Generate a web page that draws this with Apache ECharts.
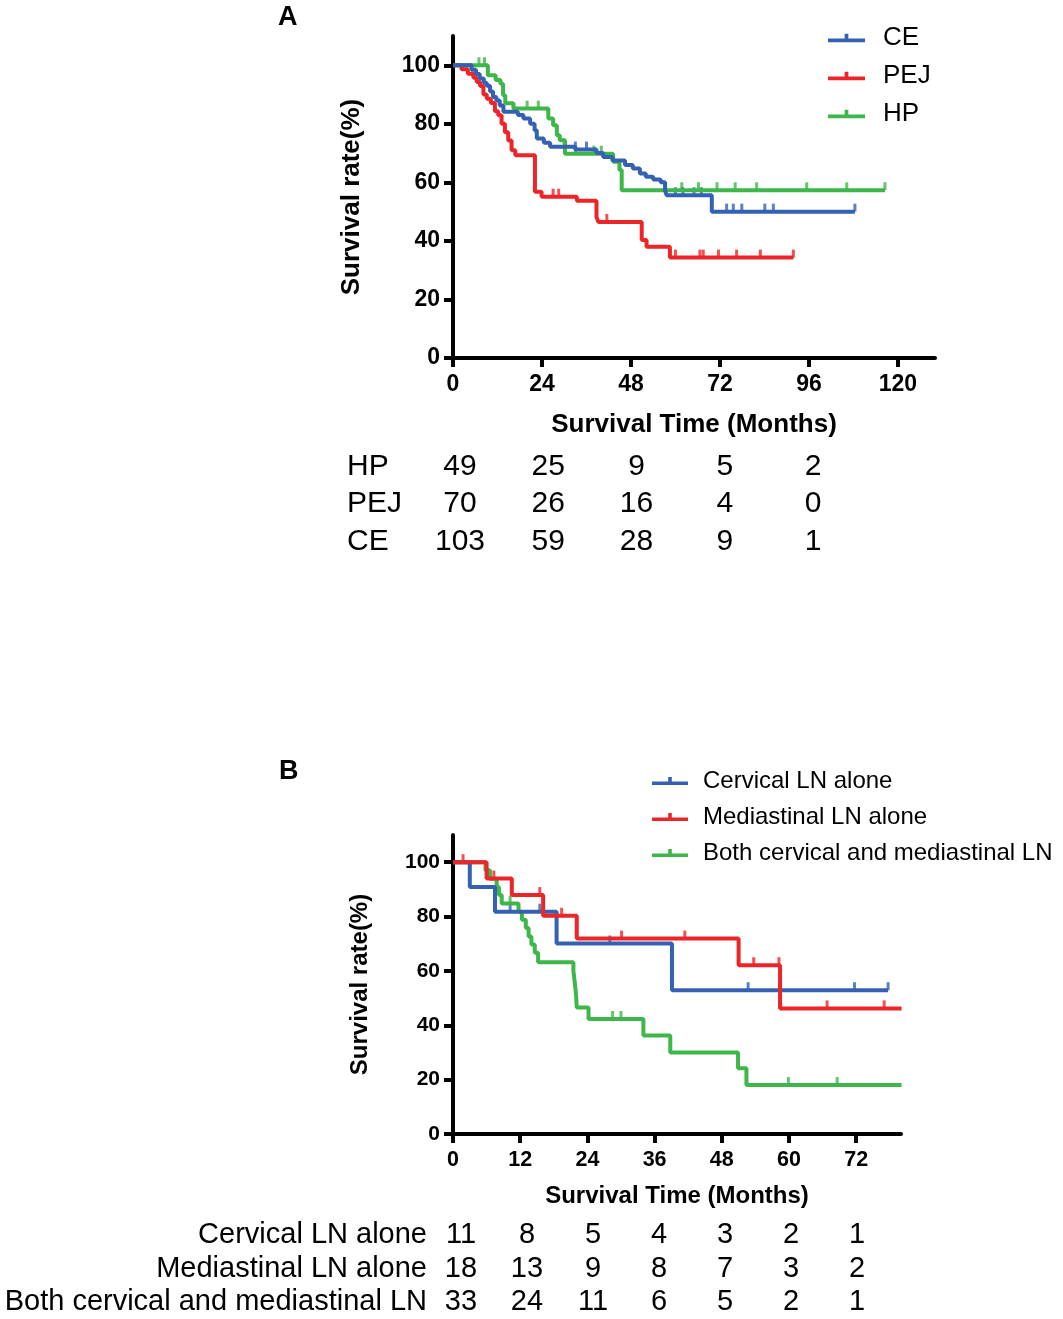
<!DOCTYPE html>
<html>
<head>
<meta charset="utf-8">
<title>survival-curves</title>
<script src="https://cdn.jsdelivr.net/npm/echarts@6.0.0/dist/echarts.min.js"></script>
<style>body{margin:0;background:#fff;}</style>
</head>
<body>
<div id="main" style="width:1063px;height:1319px;"></div>
<script>
var FONT = '"Liberation Sans", Arial, Helvetica, sans-serif';
var BLUE = '#3461b2', RED = '#ec2528', GREEN = '#3db64a';

// ---- panel A : survival steps [month, %] ----
var ceA = [[0,100],[5.0,98.5],[6.2,97],[7.2,95.5],[8.3,94],[9.1,93],[10,91],[10.8,89.2],[11.7,88],[12.6,86.3],[13.6,84.1],
  [17.5,83],[19,81.8],[20.8,80],[22,77.8],[22.6,75],[24.5,73.5],[26.2,72.2],[33,71.2],[38.7,70],[40.5,68.7],[43,67.5],
  [46.4,65.9],[48.5,64.7],[50.4,63],[52,61.9],[54,61],[56,60],[57.2,57.3],[57.6,55.6],[69.8,50],[108.4,50]];
var pejA = [[0,100],[2.3,98.6],[4,97.1],[5.5,95.7],[6.4,94.3],[7.3,92.9],[8.2,90],[9.1,88.6],[10.2,87.1],[11.3,84.3],
  [12.2,82.9],[13.1,80],[14,77.1],[14.9,74.3],[15.8,71],[16.8,69.3],[22.1,56.8],[23.9,55.1],[33.4,53.7],[38.7,48.2],
  [39.2,46.5],[50.9,40.3],[52.2,38],[58.5,34.3],[91.8,34.3]];
var hpA = [[0,100],[9.4,96.6],[11.5,95],[12.8,93.7],[13.5,89.8],[14.1,87],[16.3,85.2],[25.7,81.8],[27,79.5],[28,76.1],
  [28.8,74.4],[30.2,69.8],[43.2,67],[44.9,64.2],[45.5,57.3],[116.5,57.3]];
// censored marks
var ceCensA = [[30,72.2],[33,71.2],[36,71.2],[60,55.6],[62,55.6],[65,55.6],[67,55.6],[73.8,50],[75.6,50],[77.9,50],[84.1,50],[86.4,50],[108.4,50]];
var pejCensA = [[27,55.1],[28.5,55.1],[41.5,46.5],[60,34.3],[66.6,34.3],[67.5,34.3],[71.6,34.3],[76.5,34.3],[82.9,34.3],[91.8,34.3]];
var hpCensA = [[7,100],[8.5,100],[20,85.2],[23,85.2],[33,69.8],[38,69.8],[40,69.8],[61.7,57.3],[66.2,57.3],[71.2,57.3],[76.1,57.3],[81.9,57.3],[95.4,57.3],[106.2,57.3],[116.5,57.3]];

// numbers at risk, panel A
var riskNamesA = ['HP', 'PEJ', 'CE'];
var riskTimesA = [0, 24, 48, 72, 96];
var riskHP = [49, 25, 9, 5, 2];
var riskPEJ = [70, 26, 16, 4, 0];
var riskCE = [103, 59, 28, 9, 1];

// ---- panel B ----
var cervB = [[0,100],[3,90.9],[7.5,81.8],[18.5,70.1],[39.1,52.9],[77.7,52.9]];
var mediB = [[0,100],[6,94],[10.5,87.9],[16.1,80.3],[22.1,71.9],[51,62.1],[58.4,46.2],[80.1,46.2]];
var bothB = [[0,100],[5.8,97],[6.6,93.9],[7.8,90.9],[8.2,87.9],[8.7,84.8],[11.7,81.8],[12.3,78.8],[13,75.8],[13.5,72.7],
  [14,69.7],[14.6,66.7],[15.2,63.2],[21.5,60],[21.8,54.8],[22,50.5],[22.1,46.5],[24.2,42.3],[34,36.2],[38.8,30],
  [50.9,24.2],[52.4,18],[80.1,18]];
var cervCensB = [[10.2,81.8],[15.5,81.8],[28,70.1],[52.7,52.9],[71.7,52.9],[77.7,52.9]];
var mediCensB = [[1.8,100],[7.3,94],[15.5,87.9],[19.4,80.3],[30.1,71.9],[41.4,71.9],[53.7,62.1],[58.2,62.1],[66.8,46.2],[77,46.2]];
var bothCensB = [[10.2,84.8],[28.5,42.3],[30,42.3],[59.9,18],[68.6,18]];

var riskNamesB = ['Cervical LN alone', 'Mediastinal LN alone', 'Both cervical and mediastinal LN'];
var riskTimesB = [0, 12, 24, 36, 48, 60, 72];
var riskCerv = [11, 8, 5, 4, 3, 2, 1];
var riskMedi = [18, 13, 9, 8, 7, 3, 2];
var riskBoth = [33, 24, 11, 6, 5, 2, 1];

function tableData(rows, times) {
  var out = [];
  rows.forEach(function (r, i) {
    r.forEach(function (v, j) { out.push([times[j], i, v]); });
  });
  return out;
}

var myChart = echarts.init(document.getElementById('main'));
var legendIcon = 'path://M0,5H40V9H0Z M18,0H22V5H18Z';

function xAx(grid, max, step, ticks, fs, nfs, gap) {
  return {
    type: 'value', gridIndex: grid, min: 0, max: max, interval: step,
    name: 'Survival Time (Months)', nameLocation: 'middle', nameGap: gap,
    nameTextStyle: { fontFamily: FONT, fontWeight: 'bold', fontSize: nfs, color: '#000' },
    axisLine: { lineStyle: { color: '#000', width: 4 } },
    axisTick: { length: 9, lineStyle: { width: 4, color: '#000' }, customValues: ticks },
    axisLabel: { fontFamily: FONT, fontWeight: 'bold', fontSize: fs, color: '#000', margin: 15, customValues: ticks },
    splitLine: { show: false }
  };
}
function yAx(grid, fs, nfs, gap) {
  var ticks = [0, 20, 40, 60, 80, 100];
  return {
    type: 'value', gridIndex: grid, min: 0, max: 110, interval: 20,
    name: 'Survival rate(%)', nameLocation: 'middle', nameGap: gap,
    nameTextStyle: { fontFamily: FONT, fontWeight: 'bold', fontSize: nfs, color: '#000' },
    axisLine: { show: true, lineStyle: { color: '#000', width: 4 } },
    axisTick: { show: true, length: 9, lineStyle: { width: 4, color: '#000' }, customValues: ticks },
    axisLabel: { fontFamily: FONT, fontWeight: 'bold', fontSize: fs, color: '#000', margin: 13, customValues: ticks },
    splitLine: { show: false }
  };
}
function tableY(grid, names, align, margin, fs) {
  return {
    type: 'category', gridIndex: grid, data: names, inverse: true,
    axisLine: { show: false }, axisTick: { show: false }, splitLine: { show: false },
    axisLabel: { interval: 0, hideOverlap: false, align: align, margin: margin, fontFamily: FONT, fontSize: fs, color: '#000' }
  };
}
function kmLine(name, data, color, xi, yi) {
  return { name: name, type: 'line', step: 'end', data: data, xAxisIndex: xi, yAxisIndex: yi,
    showSymbol: false, lineStyle: { color: color, width: 4 }, itemStyle: { color: color } };
}
function cens(data, color, xi, yi) {
  return { type: 'scatter', data: data, xAxisIndex: xi, yAxisIndex: yi, symbol: 'rect',
    symbolSize: [3, 8], symbolOffset: [0, -4], itemStyle: { color: color }, silent: true };
}
function table(data, xi, yi, fs) {
  return { type: 'scatter', data: data, xAxisIndex: xi, yAxisIndex: yi, symbolSize: 1,
    itemStyle: { color: '#fff', opacity: 1 }, silent: true,
    label: { show: true, position: 'inside', fontFamily: FONT, fontSize: fs, color: '#000',
      textBorderWidth: 0, opacity: 1,
      formatter: function (p) { return p.value[2]; } } };
}

var option = {
  animation: false,
  textStyle: { fontFamily: FONT },
  graphic: [
    { type: 'text', left: 278, top: 4, style: { text: 'A', font: 'bold 27px ' + FONT, fill: '#000' } },
    { type: 'text', left: 279, top: 758, style: { text: 'B', font: 'bold 27px ' + FONT, fill: '#000' } }
  ],
  legend: [
    { data: ['CE', 'PEJ', 'HP'], orient: 'vertical', left: 823, top: 20, itemGap: 12, itemWidth: 37, itemHeight: 9,
      icon: legendIcon, textStyle: { fontFamily: FONT, fontSize: 26, color: '#000', padding: [0, 0, 0, 13] } },
    { data: ['Cervical LN alone', 'Mediastinal LN alone', 'Both cervical and mediastinal LN'], orient: 'vertical',
      left: 647, top: 764, itemGap: 12, itemWidth: 36, itemHeight: 9, icon: legendIcon,
      textStyle: { fontFamily: FONT, fontSize: 24, color: '#000', padding: [0, 0, 0, 10] } }
  ],
  grid: [
    { left: 453, top: 36, width: 482, height: 322 },
    { left: 460, top: 448, width: 478, height: 112 },
    { left: 453, top: 835, width: 448, height: 299 },
    { left: 461, top: 1218, width: 440, height: 108 }
  ],
  xAxis: [
    xAx(0, 130, 24, [0, 24, 48, 72, 96, 120], 23, 26, 54),
    { type: 'value', gridIndex: 1, min: 0, max: 130, show: false },
    xAx(2, 80, 12, [0, 12, 24, 36, 48, 60, 72], 21.5, 24, 50),
    { type: 'value', gridIndex: 3, min: 0, max: 80, show: false }
  ],
  yAxis: [
    yAx(0, 23, 26, 88),
    tableY(1, riskNamesA, 'left', 113, 30),
    yAx(2, 21, 24, 81),
    tableY(3, riskNamesB, 'right', 34, 29)
  ],
  series: [
    kmLine('HP', hpA, GREEN, 0, 0),
    kmLine('PEJ', pejA, RED, 0, 0),
    kmLine('CE', ceA, BLUE, 0, 0),
    cens(hpCensA, GREEN, 0, 0),
    cens(pejCensA, RED, 0, 0),
    cens(ceCensA, BLUE, 0, 0),
    table(tableData([riskHP, riskPEJ, riskCE], riskTimesA), 1, 1, 30),
    kmLine('Both cervical and mediastinal LN', bothB, GREEN, 2, 2),
    kmLine('Cervical LN alone', cervB, BLUE, 2, 2),
    kmLine('Mediastinal LN alone', mediB, RED, 2, 2),
    cens(bothCensB, GREEN, 2, 2),
    cens(cervCensB, BLUE, 2, 2),
    cens(mediCensB, RED, 2, 2),
    table(tableData([riskCerv, riskMedi, riskBoth], riskTimesB), 3, 3, 29)
  ]
};
myChart.setOption(option);
</script>
</body>
</html>
